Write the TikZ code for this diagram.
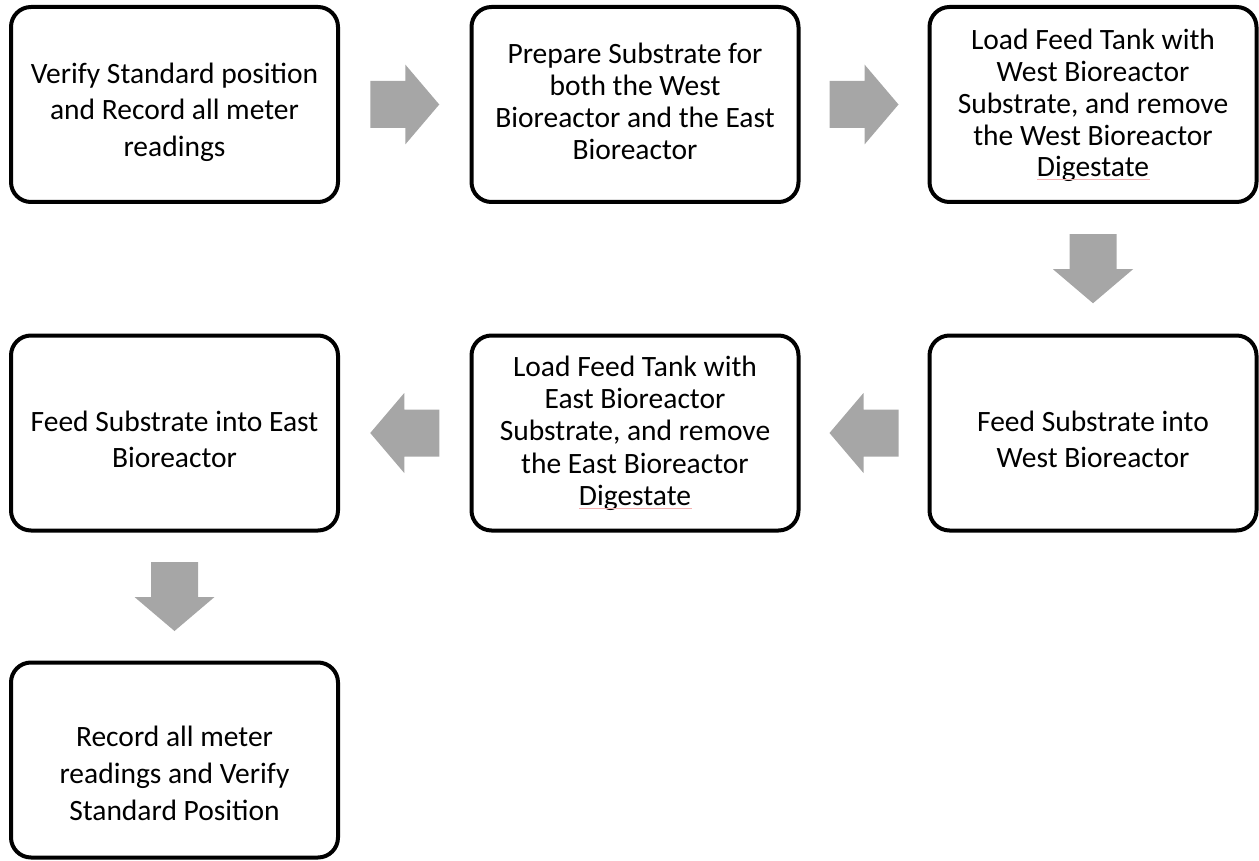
\documentclass[tikz,border=0pt]{standalone}
\usepackage{fontspec}
\setmainfont{Carlito}
\usetikzlibrary{calc}
\definecolor{arrowgray}{HTML}{A6A6A6}
\definecolor{spellred}{HTML}{F4B0B0}
\tikzset{
  stepbox/.style={draw=black, line width=4pt, rounded corners=20pt,
    minimum width=327pt, minimum height=195pt, inner sep=0pt},
  steptext/.style={align=center, inner sep=0pt, anchor=base,
    font=\fontsize{29.5}{#1}\selectfont},
  spellmark/.style={draw=spellred, line width=0.9pt},
  barrow/.pic={\fill[arrowgray] (-34.5,-23.5) -- (0.5,-23.5) -- (0.5,-40) -- (34.5,0) -- (0.5,40) -- (0.5,23.5) -- (-34.5,23.5) -- cycle;}
}
\begin{document}
\begin{tikzpicture}[x=1pt,y=-1pt]
\useasboundingbox (0,0) rectangle (1259,861);
\node[stepbox] (s1) at (174.5,104.5) {};
\node[stepbox] (s2) at (635,104.5) {};
\node[stepbox] (s3) at (1093,104.5) {};
\node[stepbox] (s4) at (1093,433) {};
\node[stepbox] (s5) at (635,433) {};
\node[stepbox] (s6) at (174.5,433) {};
\node[stepbox] (s7) at (174.5,760) {};
\node[steptext=36.7] (t1) at (s1.center |- 0,156.7) {Verify Standard position\\and Record all meter\\readings};
\node[steptext=32] (t2) at (s2.center |- 0,160) {Prepare Substrate for\\both the West\\Bioreactor and the East\\Bioreactor};
\node[steptext=31.7] (t3) at (s3.center |- 0,176.8) {Load Feed Tank with\\West Bioreactor\\Substrate, and remove\\the West Bioreactor\\Digestate};
\node[steptext=35.7] (t4) at (s4.center |- 0,467.4) {Feed Substrate into\\West Bioreactor};
\node[steptext=32.1] (t5) at (s5.center |- 0,505.1) {Load Feed Tank with\\East Bioreactor\\Substrate, and remove\\the East Bioreactor\\Digestate};
\node[steptext=35.7] (t6) at (s6.center |- 0,467.4) {Feed Substrate into East\\Bioreactor};
\node[steptext=36.7] (t7) at (s7.center |- 0,820.1) {Record all meter\\readings and Verify\\Standard Position};
\coordinate (u3a) at ($(t3.base)+(-56,3)$);
\coordinate (u3b) at ($(t3.base)+(57,3)$);
\coordinate (u5a) at ($(t5.base)+(-56,3)$);
\coordinate (u5b) at ($(t5.base)+(57,3)$);
\draw[spellmark] (u3a) -- (u3b);
\draw[spellmark] (u5a) -- (u5b);
\pic at ($(s1.east)!0.5!(s2.west)$) {barrow};
\pic at ($(s2.east)!0.5!(s3.west)$) {barrow};
\pic[rotate=-90] at ($(s3.south)!0.5!(s4.north)$) {barrow};
\pic[rotate=180] at ($(s4.west)!0.5!(s5.east)$) {barrow};
\pic[rotate=180] at ($(s5.west)!0.5!(s6.east)$) {barrow};
\pic[rotate=-90] at ($(s6.south)!0.5!(s7.north)$) {barrow};
\end{tikzpicture}
\end{document}
